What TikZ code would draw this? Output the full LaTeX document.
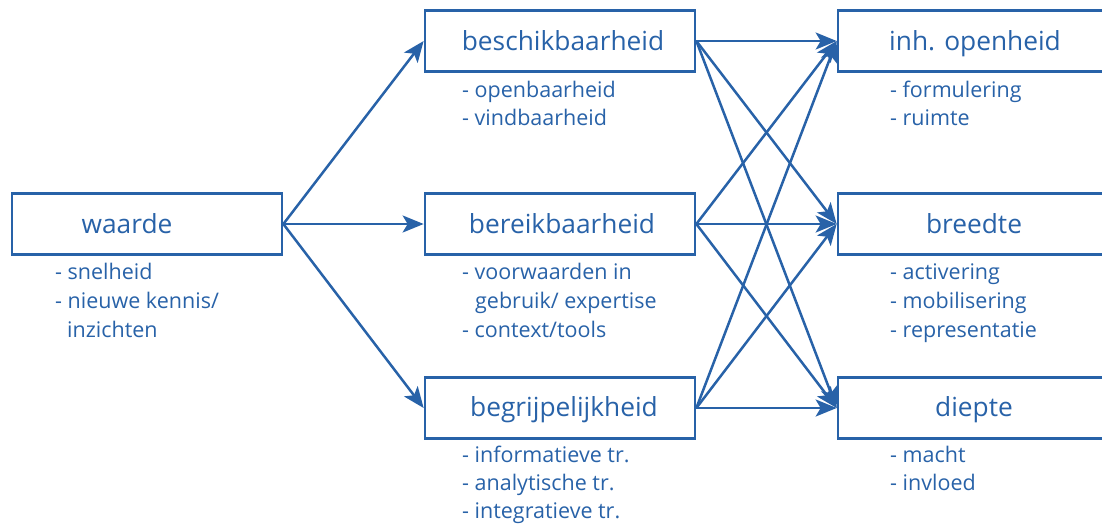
\documentclass[tikz,border=0pt]{standalone}
\usepackage{fontspec}
\setmainfont{Open Sans}
\usetikzlibrary{arrows.meta}
\definecolor{diagblue}{RGB}{40,98,168}
\tikzset{
  box/.style={draw=diagblue, line width=2.7pt, minimum height=61pt, inner sep=0pt},
  midbox/.style={box, minimum width=270pt},
  rightbox/.style={box, minimum width=280pt},
  title/.style={text=diagblue, font=\fontsize{26.3}{30}\selectfont, anchor=base, inner sep=0pt},
  item/.style={text=diagblue, font=\fontsize{21.5}{28.5}\selectfont, anchor=base west, inner sep=0pt},
  link/.style={draw=diagblue, line width=2.5pt, -{Stealth[length=21pt,width=17pt,inset=5pt]}},
}
\begin{document}
\begin{tikzpicture}[x=1pt,y=-1pt]
  \useasboundingbox (0,0) rectangle (1102,531);
  \clip (0,0) rectangle (1102,531);

  % left column
  \node[box, minimum width=270pt] (waarde) at (147,224) {};
  \node[title] (waardeT) at (127,233) {waarde};
  \node[item] (waarde1) at (55,279) {- snelheid};
  \node[item] (waarde2) at (55,308) {- nieuwe kennis/};
  \node[item] (waarde3) at (67,337) {inzichten};

  % middle column
  \node[midbox] (besch) at (560,41) {};
  \node[title] (beschT) at (563,50) {beschikbaarheid};
  \node[item] (besch1) at (462,97) {- openbaarheid};
  \node[item] (besch2) at (462,125) {- vindbaarheid};

  \node[midbox] (bereik) at (560,224) {};
  \node[title] (bereikT) at (562,233) {bereikbaarheid};
  \node[item] (bereik1) at (462,279) {- voorwaarden in};
  \node[item] (bereik2) at (475,308) {gebruik/ expertise};
  \node[item] (bereik3) at (462,337) {- context/tools};

  \node[midbox] (begrip) at (560,408) {};
  \node[title] (begripT) at (564,416) {begrijpelijkheid};
  \node[item] (begrip1) at (462,462) {- informatieve tr.};
  \node[item] (begrip2) at (462,490) {- analytische tr.};
  \node[item] (begrip3) at (462,518) {- integratieve tr.};

  % right column
  \node[rightbox] (open) at (978,41) {};
  \node[title] (openT) at (975,50) {inh. openheid};
  \node[item] (open1) at (890,97) {- formulering};
  \node[item] (open2) at (890,125) {- ruimte};

  \node[rightbox] (breed) at (978,224) {};
  \node[title] (breedT) at (974,233) {breedte};
  \node[item] (breed1) at (890,279) {- activering};
  \node[item] (breed2) at (890,308) {- mobilisering};
  \node[item] (breed3) at (890,337) {- representatie};

  \node[rightbox] (diep) at (978,408) {};
  \node[title] (diepT) at (974,416) {diepte};
  \node[item] (diep1) at (890,462) {- macht};
  \node[item] (diep2) at (890,490) {- invloed};

  % connectors
  \foreach \m in {besch,bereik,begrip}
    \draw[link] (waarde.east) -- (\m.west);
  \foreach \m in {besch,bereik,begrip}
    \foreach \r in {open,breed,diep}
      \draw[link] (\m.east) -- (\r.west);
\end{tikzpicture}
\end{document}
